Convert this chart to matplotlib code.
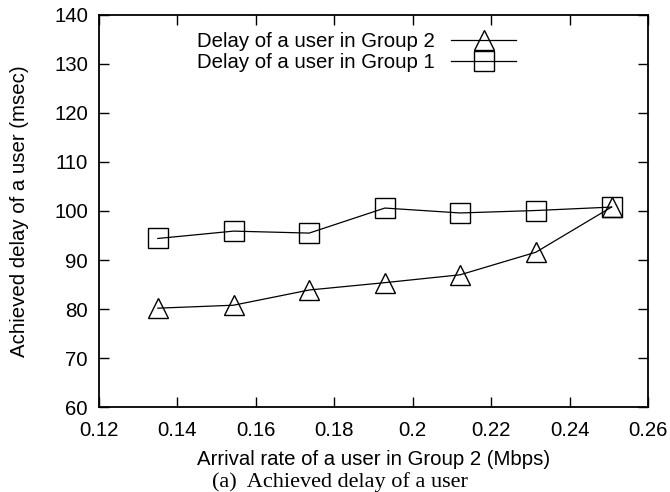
import matplotlib
matplotlib.use("Agg")
import matplotlib.pyplot as plt

x_rate = [0.135, 0.1543, 0.1736, 0.1929, 0.2121, 0.2314, 0.2507]
delay_group2 = [80.2, 80.8, 83.9, 85.4, 87.0, 91.6, 100.8]
delay_group1 = [94.4, 95.9, 95.5, 100.6, 99.6, 100.1, 100.8]
label_g2 = "Delay of a user in Group 2"
label_g1 = "Delay of a user in Group 1"
xticks = [0.12, 0.14, 0.16, 0.18, 0.2, 0.22, 0.24, 0.26]
xticklabels = ["0.12", "0.14", "0.16", "0.18", "0.2", "0.22", "0.24", "0.26"]
yticks = [60, 70, 80, 90, 100, 110, 120, 130, 140]

plt.rcParams['font.family'] = ['Liberation Sans', 'DejaVu Sans']
FS = 14.7

fig = plt.figure(figsize=(6.70, 4.92), dpi=100)
ax = fig.add_axes([99/670, 1-407.3/492, (648-99)/670, (407.3-14.7)/492])

ax.plot(x_rate, delay_group2, color='black', lw=0.9, marker='^', markersize=14,
        markerfacecolor='none', markeredgecolor='black', markeredgewidth=1.0, label=label_g2)
ax.plot(x_rate, delay_group1, color='black', lw=0.9, marker='s', markersize=14,
        markerfacecolor='none', markeredgecolor='black', markeredgewidth=1.0, label=label_g1)

ax.set_xlim(0.12, 0.26)
ax.set_ylim(60, 140)
ax.set_xticks(xticks)
ax.set_xticklabels(xticklabels)
ax.set_yticks(yticks)
ax.tick_params(direction='in', top=True, right=True, length=7, width=1.0,
               labelsize=FS)
ax.tick_params(axis='x', pad=10)
ax.tick_params(axis='y', pad=8)
for s in ax.spines.values():
    s.set_linewidth(1.3)

ax.set_xlabel("Arrival rate of a user in Group 2 (Mbps)", fontsize=FS, labelpad=7)
ax.set_ylabel("Achieved delay of a user (msec)", fontsize=FS, labelpad=18)

leg = ax.legend(loc='upper left', bbox_to_anchor=(0.147, 1.0), frameon=False,
                markerfirst=False, fontsize=FS, handlelength=3.2, handletextpad=0.8,
                labelspacing=0.1, borderaxespad=0.45)

fig.text(340/670, 1-487/492, "(a)  Achieved delay of a user", ha='center', va='baseline',
         fontsize=16, family=['Liberation Serif', 'DejaVu Serif'])

fig.savefig("out.png", dpi=100)
